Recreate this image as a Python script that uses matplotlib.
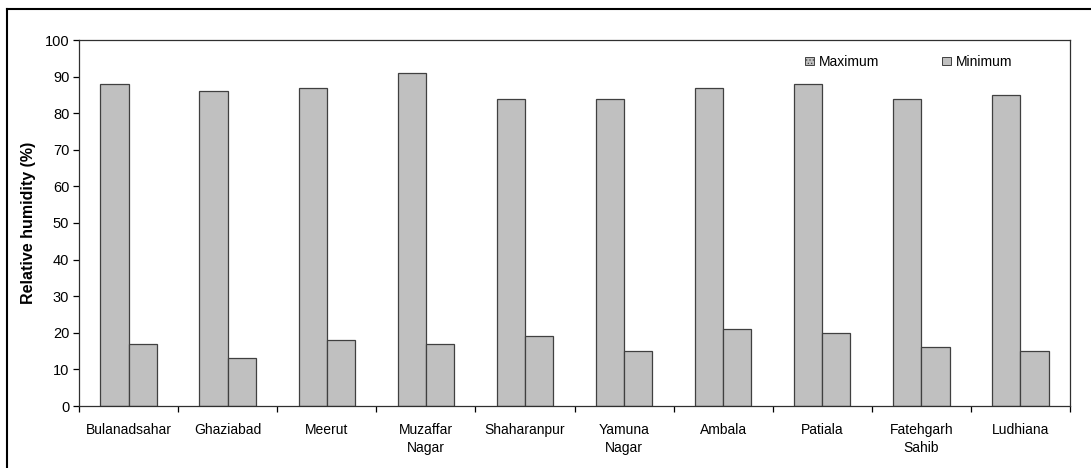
import numpy as np
import matplotlib.pyplot as plt
from matplotlib.lines import Line2D

districts = ['Bulanadsahar', 'Ghaziabad', 'Meerut', 'Muzaffar\nNagar', 'Shaharanpur',
             'Yamuna\nNagar', 'Ambala', 'Patiala', 'Fatehgarh\nSahib', 'Ludhiana']
rh_max = [88, 86, 87, 91, 84, 84, 87, 88, 84, 85]
rh_min = [17, 13, 18, 17, 19, 15, 21, 20, 16, 15]

plt.rcParams['font.family'] = ['Liberation Sans', 'DejaVu Sans']
plt.rcParams['hatch.linewidth'] = 0.5

fig = plt.figure(figsize=(10.91, 4.68), dpi=100)
ax = fig.add_axes([79 / 1091, 1 - 406 / 468, (1070 - 79) / 1091, (406 - 40) / 468])

x = np.arange(len(districts))
w = 0.285
ax.bar(x - w / 2, rh_max, w, color='#c0c0c0', edgecolor='#404040', linewidth=0.9,
       label='Maximum')
ax.bar(x + w / 2, rh_min, w, color='#c0c0c0', edgecolor='#404040', linewidth=0.9,
       label='Minimum')

ax.set_xlim(-0.5, len(districts) - 0.5)
ax.set_ylim(0, 100)
ax.set_yticks(range(0, 101, 10))
ax.set_xticks(np.arange(len(districts) + 1) - 0.5, minor=False)
ax.set_xticklabels([])
ax.set_xticks(x, minor=True)
ax.set_xticklabels(districts, minor=True, fontsize=10, linespacing=1.35)
ax.tick_params(axis='x', which='minor', length=0, pad=12)
ax.tick_params(axis='x', which='major', length=4, direction='out', width=0.9)
ax.tick_params(axis='y', labelsize=10.5, length=4, width=0.9, pad=3)
for s in ax.spines.values():
    s.set_linewidth(0.9)
    s.set_color('#303030')
ax.set_ylabel('Relative humidity (%)', fontsize=11.5, fontweight='bold', labelpad=6)

# legend, Excel style
handles = [plt.Rectangle((0, 0), 1, 1, facecolor='#c0c0c0', edgecolor='#404040',
                         hatch='.....', linewidth=0.7),
           plt.Rectangle((0, 0), 1, 1, facecolor='#c0c0c0', edgecolor='#404040',
                         linewidth=0.7)]
ax.legend(handles, ['Maximum', 'Minimum'], ncol=2, frameon=False, fontsize=10,
          loc='center left', bbox_to_anchor=(0.733, 0.94), borderaxespad=0,
          borderpad=0, handlelength=0.6, handleheight=0.6, handletextpad=0.4,
          columnspacing=4.5)

# outer chart border (top and left visible)
fig.add_artist(Line2D([7 / 1091, 1.0], [1 - 9 / 468, 1 - 9 / 468], color='black', lw=1.5))
fig.add_artist(Line2D([7 / 1091, 7 / 1091], [0, 1 - 9 / 468], color='black', lw=1.5))

fig.savefig('out.png', dpi=100)
